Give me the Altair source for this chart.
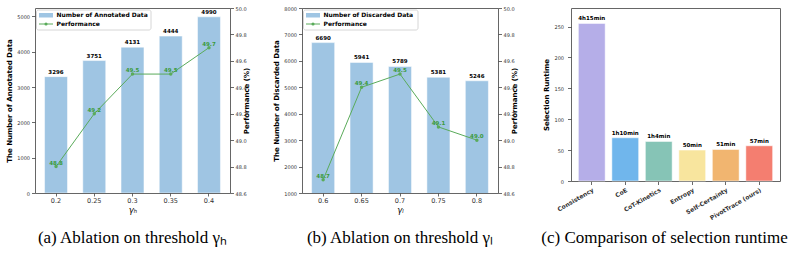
import altair as alt
import pandas as pd

# ---- data -------------------------------------------------------------
gamma_h = ["0.2", "0.25", "0.3", "0.35", "0.4"]
annotated = [3296, 3751, 4131, 4444, 4990]
perf_h = [48.8, 49.2, 49.5, 49.5, 49.7]

gamma_l = ["0.6", "0.65", "0.7", "0.75", "0.8"]
discarded = [6690, 5941, 5789, 5381, 5246]
perf_l = [48.7, 49.4, 49.5, 49.1, 49.0]

methods = ["Consistency", "CoE", "CoT-Kinetics", "Entropy", "Self-Certainty", "PivotTrace (ours)"]
runtime_min = [255, 70, 64, 50, 51, 57]
method_colors = ["#b5aee8", "#70b6ec", "#86c4b6", "#f8e59e", "#f1b570", "#f47e70"]

perf_ticks = [48.6, 48.8, 49.0, 49.2, 49.4, 49.6, 49.8, 50.0]

BAR_BLUE = "#9fc5e3"
GREEN = "#5aab5a"
LABEL_GREEN = "#3a9a3a"
FONT = "DejaVu Sans"
CAPTION_FONT = "Liberation Serif"


def fmt_runtime(minutes):
    h, m = divmod(minutes, 60)
    return f"{h}h{m}min" if h else f"{m}min"


def caption(text, offset, dx=0):
    return alt.TitleParams(
        text=text, orient="bottom", anchor="middle", frame="group",
        font=CAPTION_FONT, fontSize=17, fontWeight="normal", color="black",
        offset=offset, dx=dx,
    )


def legend_layers(first_label):
    d = alt.Chart(pd.DataFrame({"k": [0]}))
    box = d.mark_rect(fill="white", stroke="#cccccc", strokeWidth=0.8, cornerRadius=2).encode(
        x=alt.value(1.5), x2=alt.value(116), y=alt.value(2), y2=alt.value(22))
    swatch = d.mark_rect(color=BAR_BLUE).encode(
        x=alt.value(4), x2=alt.value(18), y=alt.value(5), y2=alt.value(9.5))
    seg = d.mark_rule(color=GREEN, strokeWidth=1).encode(
        x=alt.value(4), x2=alt.value(18), y=alt.value(16))
    dot = d.mark_point(filled=True, color=GREEN, size=10, opacity=1).encode(
        x=alt.value(11), y=alt.value(16))
    t1 = d.mark_text(align="left", baseline="middle", font=FONT, fontSize=6,
                     fontWeight="bold", color="black").encode(
        x=alt.value(21.5), y=alt.value(7.3), text=alt.value(first_label))
    t2 = d.mark_text(align="left", baseline="middle", font=FONT, fontSize=6,
                     fontWeight="bold", color="black").encode(
        x=alt.value(21.5), y=alt.value(16), text=alt.value("Performance"))
    return [box, swatch, seg, dot, t1, t2]


def ablation_panel(cats, counts, perf, xtitle, ytitle, legend_label,
                   ydomain, yticks, cap, width):
    df = pd.DataFrame({"g": cats, "n": counts, "p": perf})
    xenc = alt.X("g:N", sort=None,
                 scale=alt.Scale(paddingInner=0.4, paddingOuter=0.25),
                 axis=alt.Axis(title=xtitle, labelAngle=0, labelFontSize=6.5,
                               titleFontSize=8.5, titleFontStyle="italic",
                               titleFontWeight="normal", titlePadding=1,
                               labelPadding=1.5, tickSize=3))
    # left scale: bar counts
    count_y = alt.Y("n:Q", scale=alt.Scale(domain=ydomain, nice=False, zero=False),
                    axis=alt.Axis(title=ytitle, values=yticks, format="d",
                                  labelOverlap=False, labelFontSize=5,
                                  titleFontSize=7, titleFontWeight="bold",
                                  tickSize=3.5, labelPadding=2, titlePadding=4))
    # right scale: performance
    perf_y = alt.Y("p:Q", scale=alt.Scale(domain=[48.6, 50.0], nice=False, zero=False),
                   axis=alt.Axis(title="Performance (%)", orient="right",
                                 values=perf_ticks, format=".1f", labelOverlap=False,
                                 labelFontSize=5, titleFontSize=7,
                                 titleFontWeight="bold", titleAngle=270,
                                 tickSize=3.5, labelPadding=1.5, titlePadding=3))
    left_base = alt.Chart(df).encode(x=xenc, y=count_y)
    right_base = alt.Chart(df).encode(x=xenc, y=perf_y)

    bars = left_base.mark_bar(color=BAR_BLUE, clip=True, stroke="white", strokeWidth=0.5)
    bar_text = left_base.mark_text(baseline="bottom", dy=-2, font=FONT, fontSize=5.5,
                                   fontWeight="bold", color="black").encode(
        text=alt.Text("n:Q", format="d"))
    line = right_base.mark_line(color=GREEN, strokeWidth=1)
    pts = right_base.mark_point(filled=True, color=GREEN, size=12, opacity=1)
    pt_text = right_base.mark_text(baseline="bottom", dy=-1, font=FONT, fontSize=5.5,
                                   fontWeight="bold", color=LABEL_GREEN).encode(
        text=alt.Text("p:Q", format=".1f"))
    left = alt.layer(bars, bar_text)
    right = alt.layer(line, pts, pt_text)
    return alt.layer(left, right, *legend_layers(legend_label)).resolve_scale(
        y="independent").properties(width=width, height=185, title=cap)


panel_a = ablation_panel(gamma_h, annotated, perf_h, "γₕ", "The Number of Annotated Data",
                         "Number of Annotated Data", [0, 5240],
                         [0, 1000, 2000, 3000, 4000, 5000],
                         caption("(a) Ablation on threshold γₕ", 16), 195)

panel_b = ablation_panel(gamma_l, discarded, perf_l, "γₗ", "The Number of Discarded Data",
                         "Number of Discarded Data", [1000, 8000],
                         [1000, 2000, 3000, 4000, 5000, 6000, 7000, 8000],
                         caption("(b) Ablation on threshold γₗ", 16), 196)

df_c = pd.DataFrame({"m": methods, "t": runtime_min,
                     "lab": [fmt_runtime(v) for v in runtime_min]})
base_c = alt.Chart(df_c).encode(
    x=alt.X("m:N", sort=None,
            scale=alt.Scale(paddingInner=0.2, paddingOuter=0.22),
            axis=alt.Axis(title=None, labelAngle=330, labelAlign="right",
                          labelBaseline="top", labelFontSize=6,
                          labelFontWeight="bold", tickSize=3.5, labelPadding=2)),
    y=alt.Y("t:Q", scale=alt.Scale(domain=[0, 280], nice=False),
            axis=alt.Axis(title="Selection Runtime", values=[0, 50, 100, 150, 200, 250],
                          labelOverlap=False, labelFontSize=5, titleFontSize=7,
                          titleFontWeight="bold", tickSize=3.5, labelPadding=4,
                          titlePadding=4)))
bars_c = base_c.mark_bar(stroke="white", strokeWidth=0.5).encode(
    color=alt.Color("m:N", scale=alt.Scale(domain=methods, range=method_colors), legend=None))
text_c = base_c.mark_text(baseline="bottom", dy=-2, font=FONT, fontSize=5.5,
                          fontWeight="bold", color="black").encode(text="lab:N")
panel_c = alt.layer(bars_c, text_c).properties(
    width=209, height=173,
    title=caption("(c) Comparison of selection runtime", 9, -11))

chart = alt.hconcat(panel_a, panel_b, panel_c, spacing=22).properties(
    padding={"left": 5, "top": 5, "right": 5, "bottom": 2}
).configure_view(stroke="#666666", strokeWidth=1).configure_axis(
    domain=False, grid=False, labelFont=FONT, titleFont=FONT, labelOverlap=False,
    labelColor="#333333", titleColor="black", tickColor="#444444", tickWidth=0.8
).configure_concat(spacing=22)

chart.save("out.html", embed_options={"renderer": "svg", "actions": False})
